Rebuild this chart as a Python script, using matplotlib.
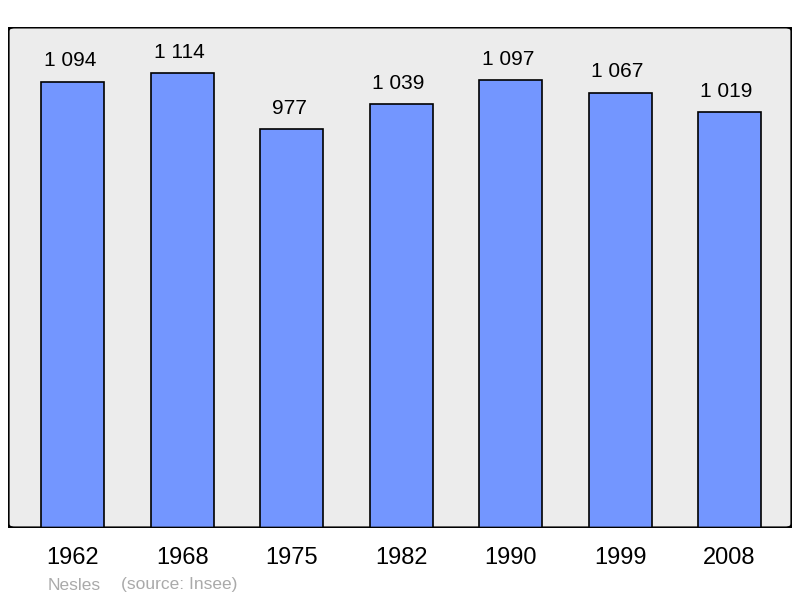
import numpy as np
import matplotlib.pyplot as plt
from matplotlib.patches import FancyBboxPatch

plt.rcParams['font.family'] = ['Liberation Sans', 'DejaVu Sans']

years = ['1962', '1968', '1975', '1982', '1990', '1999', '2008']
population = [1094, 1114, 977, 1039, 1097, 1067, 1019]
labels = ['1 094', '1 114', '977', '1 039', '1 097', '1 067', '1 019']

fig = plt.figure(figsize=(8, 5.98), dpi=100)
ax = fig.add_axes([0.01, 0.117, 0.98, 0.838])
ax.set_facecolor('none')

x = np.arange(len(years))
ax.bar(x, population, width=0.576, color='#7396ff', edgecolor='black',
       linewidth=1.2, zorder=2)
for xi, v, lab in zip(x, population, labels):
    ax.annotate(lab, (xi, v), xytext=(-2, 8), textcoords='offset points',
                ha='center', va='bottom', fontsize=15)

ax.set_xlim(-0.594, 6.572)
ax.set_ylim(0, 1228)
ax.set_yticks([])
ax.set_xticks(x)
ax.set_xticklabels(years, fontsize=17)
ax.tick_params(axis='x', length=0, pad=14)
for s in ax.spines.values():
    s.set_visible(False)

# rounded frame
frame = FancyBboxPatch((0, 0), 1, 1, boxstyle='round,pad=0,rounding_size=0.008',
                       transform=ax.transAxes, facecolor='#ececec',
                       edgecolor='black', linewidth=2, zorder=0)
ax.add_patch(frame)
frame2 = FancyBboxPatch((0, 0), 1, 1, boxstyle='round,pad=0,rounding_size=0.008',
                        transform=ax.transAxes, facecolor='none',
                        edgecolor='black', linewidth=2, zorder=3)
ax.add_patch(frame2)

fig.text(48 / 800, 1 - 585 / 598, 'Nesles', color='#aaaaaa', fontsize=12.5, va='center')
fig.text(121 / 800, 1 - 585 / 598, '(source: Insee)', color='#aaaaaa', fontsize=12.5, va='center')

fig.savefig('out.png', dpi=100)
